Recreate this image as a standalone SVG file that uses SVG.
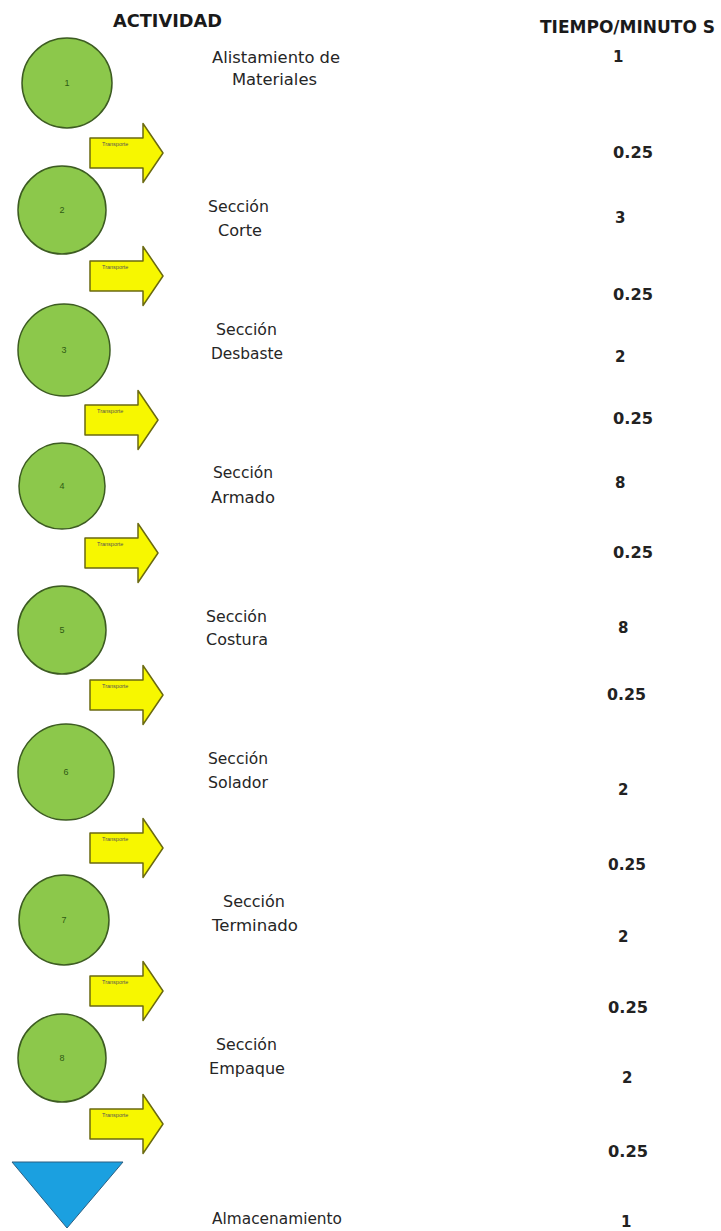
<svg xmlns="http://www.w3.org/2000/svg" xmlns:xlink="http://www.w3.org/1999/xlink" width="721" height="1231" viewBox="0 0 721 1231">
  <style>
    .head { font-family: "DejaVu Sans", "Liberation Sans", sans-serif; font-weight: bold; font-size: 17px; fill: #1a1a1a; }
    .op { fill: #8cc84b; stroke: #3d5c22; stroke-width: 1.5; }
    .num { font-family: "Liberation Sans", sans-serif; font-size: 9px; fill: #2f5a14; text-anchor: middle; }
    .lbl { font-family: "DejaVu Sans", "Liberation Sans", sans-serif; font-size: 15.5px; fill: #262626; }
    .val { font-family: "DejaVu Sans", "Liberation Sans", sans-serif; font-weight: bold; font-size: 15px; fill: #222; }
    .tr { fill: #f7f700; stroke: #6b6a10; stroke-width: 1.5; stroke-linejoin: round; }
    .trt { font-family: "Liberation Sans", sans-serif; font-size: 5.5px; fill: #555; }
    .store { fill: #1ba0e0; stroke: #2b5f82; stroke-width: 1; }
  </style>
  <defs>
    <!-- block arrow used for every transport step; origin at the tail, vertical centre -->
    <path id="blockArrow" class="tr" d="M0,-15 H53 V-29.5 L73,0 L53,29.5 V15 H0 Z"/>
  </defs>

  <rect width="721" height="1231" fill="#ffffff"/>

  <!-- column headers -->
  <text class="head" x="113" y="27" textLength="109" lengthAdjust="spacingAndGlyphs">ACTIVIDAD</text>
  <text class="head" x="540" y="33" textLength="175" lengthAdjust="spacingAndGlyphs">TIEMPO/MINUTO S</text>

  <!-- transport arrows between operations -->
  <g id="connectors">
    <use xlink:href="#blockArrow" x="90" y="153"/>
    <text class="trt" x="102" y="146">Transporte</text>
    <use xlink:href="#blockArrow" x="90" y="276"/>
    <text class="trt" x="102" y="269">Transporte</text>
    <use xlink:href="#blockArrow" x="85" y="420"/>
    <text class="trt" x="97" y="413">Transporte</text>
    <use xlink:href="#blockArrow" x="85" y="553"/>
    <text class="trt" x="97" y="546">Transporte</text>
    <use xlink:href="#blockArrow" x="90" y="695"/>
    <text class="trt" x="102" y="688">Transporte</text>
    <use xlink:href="#blockArrow" x="90" y="848"/>
    <text class="trt" x="102" y="841">Transporte</text>
    <use xlink:href="#blockArrow" x="90" y="991"/>
    <text class="trt" x="102" y="984">Transporte</text>
    <use xlink:href="#blockArrow" x="90" y="1124"/>
    <text class="trt" x="102" y="1117">Transporte</text>
  </g>

  <!-- operations -->
  <g id="op1">
    <circle class="op" cx="67" cy="83" r="45"/>
    <text class="num" x="67" y="86">1</text>
    <text class="lbl" x="212" y="63" textLength="128" lengthAdjust="spacingAndGlyphs">Alistamiento de</text>
    <text class="lbl" x="232" y="85" textLength="85" lengthAdjust="spacingAndGlyphs">Materiales</text>
  </g>
  <g id="op2">
    <circle class="op" cx="62" cy="210" r="44"/>
    <text class="num" x="62" y="213">2</text>
    <text class="lbl" x="208" y="212" textLength="61" lengthAdjust="spacingAndGlyphs">Sección</text>
    <text class="lbl" x="218" y="236" textLength="44" lengthAdjust="spacingAndGlyphs">Corte</text>
  </g>
  <g id="op3">
    <circle class="op" cx="64" cy="350" r="46"/>
    <text class="num" x="64" y="353">3</text>
    <text class="lbl" x="216" y="335" textLength="61" lengthAdjust="spacingAndGlyphs">Sección</text>
    <text class="lbl" x="211" y="359" textLength="72" lengthAdjust="spacingAndGlyphs">Desbaste</text>
  </g>
  <g id="op4">
    <circle class="op" cx="62" cy="486" r="43"/>
    <text class="num" x="62" y="489">4</text>
    <text class="lbl" x="213" y="478" textLength="60" lengthAdjust="spacingAndGlyphs">Sección</text>
    <text class="lbl" x="211" y="503" textLength="64" lengthAdjust="spacingAndGlyphs">Armado</text>
  </g>
  <g id="op5">
    <circle class="op" cx="62" cy="630" r="44"/>
    <text class="num" x="62" y="633">5</text>
    <text class="lbl" x="206" y="622" textLength="61" lengthAdjust="spacingAndGlyphs">Sección</text>
    <text class="lbl" x="206" y="645" textLength="62" lengthAdjust="spacingAndGlyphs">Costura</text>
  </g>
  <g id="op6">
    <circle class="op" cx="66" cy="772" r="48"/>
    <text class="num" x="66" y="775">6</text>
    <text class="lbl" x="208" y="764" textLength="60" lengthAdjust="spacingAndGlyphs">Sección</text>
    <text class="lbl" x="208" y="788" textLength="60" lengthAdjust="spacingAndGlyphs">Solador</text>
  </g>
  <g id="op7">
    <circle class="op" cx="64" cy="920" r="45"/>
    <text class="num" x="64" y="923">7</text>
    <text class="lbl" x="223" y="907" textLength="62" lengthAdjust="spacingAndGlyphs">Sección</text>
    <text class="lbl" x="212" y="931" textLength="86" lengthAdjust="spacingAndGlyphs">Terminado</text>
  </g>
  <g id="op8">
    <circle class="op" cx="62" cy="1058" r="44"/>
    <text class="num" x="62" y="1061">8</text>
    <text class="lbl" x="216" y="1050" textLength="61" lengthAdjust="spacingAndGlyphs">Sección</text>
    <text class="lbl" x="209" y="1074" textLength="76" lengthAdjust="spacingAndGlyphs">Empaque</text>
  </g>
  <g id="storage">
    <polygon class="store" points="12,1162 123,1162 67,1228"/>
    <text class="lbl" x="212" y="1224" textLength="130" lengthAdjust="spacingAndGlyphs">Almacenamiento</text>
  </g>

  <!-- times in minutes -->
  <g id="times">
    <text class="val" x="613" y="62">1</text>
    <text class="val" x="613" y="158" textLength="40" lengthAdjust="spacingAndGlyphs">0.25</text>
    <text class="val" x="615" y="223">3</text>
    <text class="val" x="613" y="300" textLength="40" lengthAdjust="spacingAndGlyphs">0.25</text>
    <text class="val" x="615" y="362">2</text>
    <text class="val" x="613" y="424" textLength="40" lengthAdjust="spacingAndGlyphs">0.25</text>
    <text class="val" x="615" y="488">8</text>
    <text class="val" x="613" y="558" textLength="40" lengthAdjust="spacingAndGlyphs">0.25</text>
    <text class="val" x="618" y="633">8</text>
    <text class="val" x="607" y="700" textLength="39" lengthAdjust="spacingAndGlyphs">0.25</text>
    <text class="val" x="618" y="795">2</text>
    <text class="val" x="608" y="870" textLength="38" lengthAdjust="spacingAndGlyphs">0.25</text>
    <text class="val" x="618" y="942">2</text>
    <text class="val" x="608" y="1013" textLength="40" lengthAdjust="spacingAndGlyphs">0.25</text>
    <text class="val" x="622" y="1083">2</text>
    <text class="val" x="608" y="1157" textLength="40" lengthAdjust="spacingAndGlyphs">0.25</text>
    <text class="val" x="621" y="1227">1</text>
  </g>
</svg>
